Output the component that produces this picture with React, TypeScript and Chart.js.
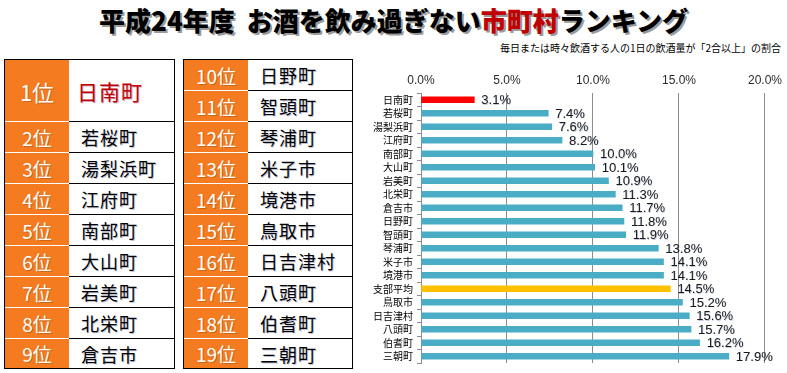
import React, { useEffect, useRef } from "react";
import { Chart, registerables } from "chart.js";

Chart.register(...registerables);

const titleMain = "平成24年度  お酒を飲み過ぎない";
const titleRed = "市町村";
const titleTail = "ランキング";
const subtitle = "毎日または時々飲酒する人の1日の飲酒量が「2合以上」の割合";

const table1Ranks = ["1位", "2位", "3位", "4位", "5位", "6位", "7位", "8位", "9位"];
const table1Names = ["日南町", "若桜町", "湯梨浜町", "江府町", "南部町", "大山町", "岩美町", "北栄町", "倉吉市"];
const table2Ranks = ["10位", "11位", "12位", "13位", "14位", "15位", "16位", "17位", "18位", "19位"];
const table2Names = ["日野町", "智頭町", "琴浦町", "米子市", "境港市", "鳥取市", "日吉津村", "八頭町", "伯耆町", "三朝町"];

const categories = [
  "日南町", "若桜町", "湯梨浜町", "江府町", "南部町", "大山町", "岩美町", "北栄町", "倉吉市", "日野町",
  "智頭町", "琴浦町", "米子市", "境港市", "支部平均", "鳥取市", "日吉津村", "八頭町", "伯耆町", "三朝町",
];
const values = [3.1, 7.4, 7.6, 8.2, 10.0, 10.1, 10.9, 11.3, 11.7, 11.8, 11.9, 13.8, 14.1, 14.1, 14.5, 15.2, 15.6, 15.7, 16.2, 17.9];
const xTicks = [0, 5, 10, 15, 20];

const FONT = "'Noto Sans CJK JP', 'Noto Sans', sans-serif";
const NUM_FONT = "'Liberation Sans', 'Noto Sans', sans-serif";
const ORANGE = "#F47B20";

const barColor = (name: string) =>
  name === "日南町" ? "#FF0000" : name === "支部平均" ? "#FFC000" : "#4BACC6";

const labelPlugin = {
  id: "valueLabels",
  afterDatasetsDraw(chart: any) {
    const ctx = chart.ctx;
    const meta = chart.getDatasetMeta(0);
    ctx.save();
    ctx.font = `13px ${NUM_FONT}`;
    ctx.textAlign = "left";
    ctx.textBaseline = "middle";
    meta.data.forEach((bar: any, i: number) => {
      const txt = values[i].toFixed(1) + "%";
      ctx.fillStyle = "rgba(80,110,160,0.35)";
      ctx.fillText(txt, bar.x + 7.6, bar.y + 1.6);
      ctx.fillStyle = "#1a1a1a";
      ctx.fillText(txt, bar.x + 7, bar.y + 1);
    });
    ctx.restore();
  },
};

function BarChart() {
  const ref = useRef<HTMLCanvasElement | null>(null);
  useEffect(() => {
    if (!ref.current) return;
    const chart = new Chart(ref.current, {
      type: "bar",
      data: {
        labels: categories,
        datasets: [
          {
            data: values,
            backgroundColor: categories.map(barColor),
            barThickness: 6,
          },
        ],
      },
      options: {
        indexAxis: "y",
        animation: false,
        responsive: false,
        layout: { padding: { right: 22, bottom: 3, left: 0, top: 0 } },
        plugins: { legend: { display: false }, tooltip: { enabled: false } },
        scales: {
          x: {
            position: "top",
            min: 0,
            max: 20,
            afterFit: (s: any) => {
              s.height = 33;
            },
            afterBuildTicks: (s: any) => {
              s.ticks = xTicks.map((v) => ({ value: v }));
            },
            ticks: {
              padding: 5,
              color: "#2a2a2a",
              font: { family: NUM_FONT, size: 12 },
              callback: (v: any) => Number(v).toFixed(1) + "%",
            },
            grid: { color: "#8c8c8c", drawTicks: false, lineWidth: 1 },
            border: { display: false },
          },
          y: {
            afterFit: (s: any) => {
              s.width = 71;
            },
            ticks: {
              padding: 4,
              color: "#000",
              font: { family: FONT, size: 10 },
              autoSkip: false,
            },
            grid: { drawOnChartArea: false, drawTicks: true, tickLength: 4, offset: true, color: "#8c8c8c" },
            border: { display: true, color: "#8c8c8c" },
          },
        },
      },
      plugins: [labelPlugin],
    });
    return () => chart.destroy();
  }, []);
  return <canvas ref={ref} width={437} height={313} style={{ position: "absolute", left: 350, top: 60 }} />;
}

const ROW_H = 31;

function RankTable({ left, ranks, names, firstDouble }: { left: number; ranks: string[]; names: string[]; firstDouble: boolean }) {
  return (
    <div
      style={{
        position: "absolute",
        left,
        top: 59,
        width: left === 4 ? 171 : 170,
        border: "1px solid #000",
        boxSizing: "border-box",
        display: "flex",
        flexDirection: "column",
        background: "#fff",
      }}
    >
      {ranks.map((r, i) => {
        const big = firstDouble && i === 0;
        const last = i === ranks.length - 1;
        const h = big ? ROW_H * 2 : ROW_H;
        return (
          <div key={r} style={{ display: "flex", height: h - (last ? 2 : 0), boxSizing: "border-box" }}>
            <div
              style={{
                width: 64,
                background: ORANGE,
                color: "#fff",
                fontFamily: FONT,
                fontSize: big ? 22 : 19,
                display: "flex",
                alignItems: "center",
                justifyContent: "center",
                borderBottom: last ? "none" : "1px solid #fff",
                boxSizing: "border-box",
                textShadow: "1px 1px 0 rgba(120,60,0,0.35)",
              }}
            >
              {r}
            </div>
            <div
              style={{
                flex: 1,
                display: "flex",
                alignItems: "center",
                paddingLeft: big ? 8 : 12,
                fontFamily: FONT,
                fontSize: big ? 21 : 18,
                color: big ? "#C00000" : "#000",
                borderBottom: last ? "none" : "1px solid #000",
                boxSizing: "border-box",
                textShadow: big ? "1px 1px 0 rgba(120,0,80,0.35)" : "1px 1px 0 rgba(0,0,80,0.25)",
                letterSpacing: 1,
              }}
            >
              {names[i]}
            </div>
          </div>
        );
      })}
    </div>
  );
}

export default function App() {
  return (
    <div style={{ position: "absolute", left: 0, top: 0, width: 787, height: 373, background: "#fff", overflow: "hidden" }}>
      <div
        style={{
          position: "absolute",
          left: 0,
          top: 4,
          width: 787,
          textAlign: "center",
          fontFamily: FONT,
          fontWeight: 900,
          fontSize: 26,
          lineHeight: "32px",
          color: "#000",
          textShadow: "2px 2px 0 #9a9a9a",
          whiteSpace: "pre",
        }}
      >
        {titleMain}
        <span style={{ color: "#C00000" }}>{titleRed}</span>
        {titleTail}
      </div>
      <div
        style={{
          position: "absolute",
          right: 6,
          top: 41,
          fontFamily: FONT,
          fontSize: 10,
          lineHeight: "14px",
          color: "#000",
          whiteSpace: "nowrap",
        }}
      >
        {subtitle}
      </div>
      <RankTable left={4} ranks={table1Ranks} names={table1Names} firstDouble={true} />
      <RankTable left={183} ranks={table2Ranks} names={table2Names} firstDouble={false} />
      <BarChart />
    </div>
  );
}
